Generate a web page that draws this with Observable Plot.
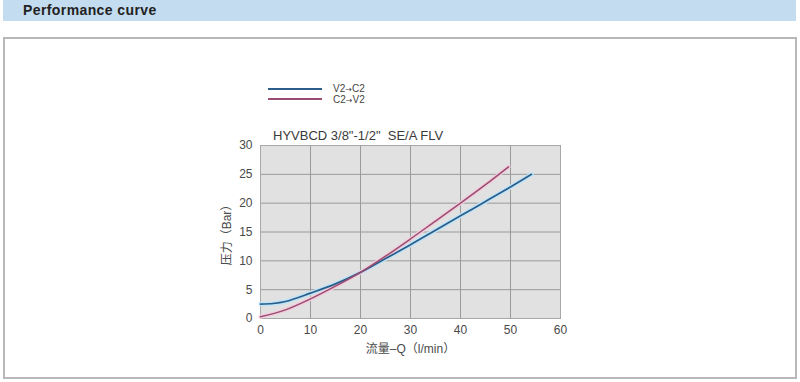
<!DOCTYPE html>
<html>
<head>
<meta charset="utf-8">
<script src="https://cdn.jsdelivr.net/npm/d3@7"></script>
<script src="https://cdn.jsdelivr.net/npm/@observablehq/plot@0.6"></script>
<style>
  html, body { margin: 0; padding: 0; background: #fff; }
  #page { position: relative; width: 800px; height: 382px; overflow: hidden;
    font-family: "Liberation Sans", Arial, "Noto Sans CJK SC", sans-serif; }
  #band { position: absolute; left: 3px; top: 0; width: 793px; height: 21px; background: #c4dcf0; }
  #band span { position: absolute; left: 20px; top: 2px; font-size: 14px; font-weight: bold; color: #222; letter-spacing: 0.4px; }
  #box { position: absolute; left: 3px; top: 37px; width: 790px; height: 338px; border: 2px solid #b8b8b8; }
  #title { position: absolute; left: 273px; top: 128px; font-size: 13px; color: #3a3a3a; white-space: pre; }
  .leg { position: absolute; font-size: 10px; line-height: 10px; height: 10px; color: #444; }
  .arr { font-family: "DejaVu Sans", sans-serif; font-size: 8px; }
  .legline { position: absolute; left: 268px; width: 54px; height: 2px; }
  #chart { position: absolute; left: 200px; top: 120px; }
</style>
</head>
<body>
<div id="page">
  <div id="band"><span>Performance curve</span></div>
  <div id="box"></div>
  <div class="legline" style="top:88px;background:#2b5d8a"></div>
  <div class="leg" style="left:333px;top:84px">V2<span class="arr">→</span>C2</div>
  <div class="legline" style="top:98px;background:#9a4d72"></div>
  <div class="leg" style="left:333px;top:95px">C2<span class="arr">→</span>V2</div>
  <div id="title">HYVBCD 3/8"-1/2"  SE/A FLV</div>
  <div id="chart"></div>
</div>
<script>
const blueQ = [0, 2.5, 5, 10, 15, 20, 25, 30, 35, 40, 45, 50, 54.2];
const blueP = [2.5, 2.6, 2.95, 4.4, 6.0, 8.0, 10.4, 12.8, 15.3, 17.8, 20.3, 22.8, 25.0];
const redQ = [0, 5, 10, 15, 20, 25, 30, 35, 40, 45, 49.6];
const redP = [0.3, 1.5, 3.4, 5.6, 8.0, 10.8, 13.8, 16.9, 20.0, 23.2, 26.3];
const xTicks = [0, 10, 20, 30, 40, 50, 60];
const yTicks = [0, 5, 10, 15, 20, 25, 30];

const blue = blueQ.map((q, i) => ({q, p: blueP[i]}));
const red = redQ.map((q, i) => ({q, p: redP[i]}));

const chart = Plot.plot({
  width: 400,
  height: 240,
  marginLeft: 60,
  marginRight: 40,
  marginTop: 25,
  marginBottom: 42,
  style: {fontFamily: "Liberation Sans, Arial, Noto Sans CJK SC, sans-serif", fontSize: "12px", color: "#4a4a4a", background: "transparent"},
  x: {domain: [0, 60], ticks: xTicks, tickSize: 0, tickPadding: 7, label: "流量–Q（l/min）", labelAnchor: "center", labelArrow: "none", labelOffset: 34},
  y: {domain: [0, 30], ticks: yTicks, tickSize: 0, tickPadding: 8, label: "压力（Bar）", labelAnchor: "center", labelArrow: "none", labelOffset: 38},
  marks: [
    Plot.frame({fill: "#e1e1e1", stroke: "none"}),
    Plot.gridX(xTicks, {stroke: "#9a9a9a", strokeOpacity: 1, strokeWidth: 1}),
    Plot.gridY(yTicks, {stroke: "#9a9a9a", strokeOpacity: 1, strokeWidth: 1}),
    Plot.frame({stroke: "#a8a8a8"}),
    Plot.line(blue, {x: "q", y: "p", curve: "catmull-rom", stroke: "#bfe4f6", strokeWidth: 4.5}),
    Plot.line(red, {x: "q", y: "p", curve: "catmull-rom", stroke: "#f2cddc", strokeWidth: 4}),
    Plot.line(blue, {x: "q", y: "p", curve: "catmull-rom", stroke: "#2b5d8a", strokeWidth: 1.7}),
    Plot.line(red, {x: "q", y: "p", curve: "catmull-rom", stroke: "#9a4d72", strokeWidth: 1.5})
  ]
});
document.getElementById("chart").appendChild(chart);
</script>
</body>
</html>
